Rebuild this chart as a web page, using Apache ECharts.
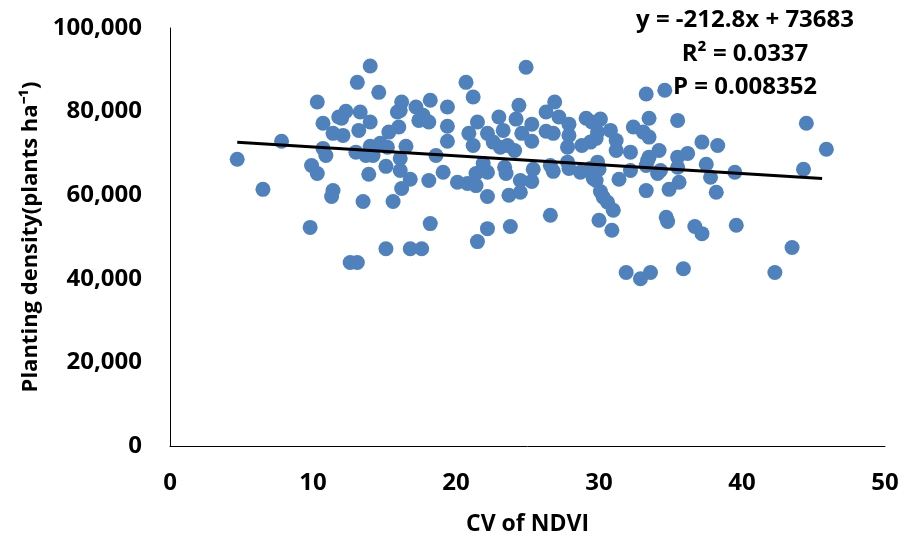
<!DOCTYPE html>
<html>
<head>
<meta charset="utf-8">
<script src="https://cdn.jsdelivr.net/npm/echarts@6/dist/echarts.min.js"></script>
<style>
    html, body { margin: 0; padding: 0; background: #fff; }
    #main { width: 911px; height: 540px; }
</style>
</head>
<body>
<div id="main"></div>
<script>
// CV of NDVI (x) and planting density (y)
var cvNdvi = [
    4.7, 6.5, 7.8, 9.8, 9.9, 10.3, 10.3, 10.7, 10.7, 10.9,
    11.4, 11.4, 11.3, 11.8, 12.1, 12.0, 12.3, 12.6, 13.1, 13.1,
    13.0, 13.3, 13.2, 13.5, 14.0, 14.0, 13.9, 13.7, 14.0, 14.2,
    14.6, 14.7, 15.1, 15.1, 15.2, 15.3, 15.6, 15.9, 16.0, 16.1,
    16.2, 16.1, 16.1, 16.2, 16.5, 16.8, 16.8, 17.2, 17.4, 17.6,
    17.7, 18.1, 18.1, 18.2, 18.2, 18.6, 19.1, 19.4, 19.4, 19.4,
    20.1, 20.7, 20.8, 20.9, 21.2, 21.2, 21.4, 21.4, 21.5, 21.5,
    21.9, 22.2, 22.2, 22.2, 22.2, 22.6, 23.0, 23.1, 23.3, 23.4,
    23.5, 23.6, 23.7, 23.8, 24.1, 24.2, 24.4, 24.5, 24.5, 24.6,
    24.9, 25.3, 25.3, 25.3, 25.4, 26.3, 26.3, 26.8, 26.6, 26.6,
    26.8, 26.9, 27.2, 27.8, 27.8, 27.9, 27.9, 27.9, 28.7, 28.8,
    29.1, 29.4, 29.4, 29.5, 29.6, 29.8, 29.8, 29.9, 29.9, 30.0,
    30.1, 30.0, 30.1, 30.3, 30.6, 30.8, 30.9, 31.0, 31.2, 31.2,
    31.4, 31.9, 32.2, 32.2, 32.4, 32.9, 33.1, 33.3, 33.3, 33.3,
    33.4, 33.5, 33.5, 33.5, 33.6, 34.1, 34.2, 34.3, 34.6, 34.7,
    34.8, 34.9, 35.5, 35.5, 35.5, 35.6, 35.9, 36.2, 36.7, 37.2,
    37.2, 37.5, 37.8, 38.2, 38.3, 39.5, 39.6, 42.3, 43.5, 44.3,
    44.5, 45.9
];
var density = [
    68600, 61400, 72900, 52300, 67100, 65200, 82300, 77200, 71200, 69500,
    74800, 61100, 59700, 78700, 74300, 78400, 80100, 43900, 43900, 87000,
    70300, 79900, 75500, 58500, 90900, 77500, 65000, 69500, 71700, 69500,
    84600, 72400, 47200, 66900, 71500, 75100, 58500, 79900, 76300, 80300,
    82300, 68800, 65900, 61600, 71700, 47200, 63800, 81100, 77900, 47200,
    79100, 77500, 63500, 82700, 53200, 69500, 65500, 81100, 76500, 72900,
    63100, 87000, 62800, 74800, 83500, 71900, 65200, 62300, 77500, 48900,
    67600, 74800, 65500, 59700, 52000, 72700, 78700, 71500, 75500, 66700,
    65200, 71900, 60000, 52500, 70700, 78200, 81500, 63500, 60700, 74800,
    90600, 63300, 77000, 72900, 66200, 79900, 75300, 74800, 67100, 55200,
    65700, 82300, 78700, 67900, 71500, 77000, 74300, 66400, 65500, 71900,
    78400, 72700, 66400, 77500, 64000, 73600, 63500, 75100, 67900, 66200,
    60900, 54000, 78200, 59500, 58300, 75500, 51600, 56400, 73100, 70700,
    63800, 41500, 70300, 65900, 76300, 40000, 75100, 84200, 67100, 61100,
    68300, 78400, 73900, 69100, 41500, 65200, 70700, 65900, 85100, 54700,
    53700, 61400, 77900, 69100, 66700, 63100, 42400, 70000, 52500, 72700,
    50800, 67400, 64300, 60700, 71900, 65500, 52800, 41500, 47500, 66200,
    77200, 71000
];

// linear fit shown on the chart
var slope = -212.8;
var intercept = 73683;
var fitX = [4.7, 45.6];
var fitText = ['y = -212.8x + 73683', 'R² = 0.0337', 'P = 0.008352'];

var xTicks = { min: 0, max: 50, step: 10 };
var yTicks = { min: 0, max: 100000, step: 20000 };

var points = [];
for (var i = 0; i < cvNdvi.length; i++) {
    points.push([cvNdvi[i], density[i]]);
}
var fitLine = fitX.map(function (x) { return [x, slope * x + intercept]; });

var font = 'Open Sans';
var myChart = echarts.init(document.getElementById('main'));
var option = {
    animation: false,
    grid: { left: 170, right: 26, top: 28, bottom: 94, outerBoundsMode: 'none', containLabel: false },
    xAxis: {
        type: 'value',
        min: xTicks.min, max: xTicks.max, interval: xTicks.step,
        name: 'CV of NDVI',
        nameLocation: 'middle',
        nameGap: 67,
        nameTextStyle: { color: '#000', fontSize: 23, fontWeight: 'bold', fontFamily: font },
        axisLine: { lineStyle: { color: '#000', width: 1 } },
        axisTick: { show: false },
        splitLine: { show: false },
        axisLabel: { color: '#000', fontSize: 24, fontWeight: 'bold', fontFamily: font, margin: 25 }
    },
    yAxis: {
        type: 'value',
        min: yTicks.min, max: yTicks.max, interval: yTicks.step,
        name: 'Planting density(plants ha⁻¹)',
        nameLocation: 'middle',
        nameGap: 126,
        nameTextStyle: { color: '#000', fontSize: 22, fontWeight: 'bold', fontFamily: font },
        axisLine: { show: true, lineStyle: { color: '#000', width: 1 } },
        axisTick: { show: false },
        splitLine: { show: false },
        axisLabel: {
            color: '#000', fontSize: 24, fontWeight: 'bold', fontFamily: font, margin: 28,
            formatter: function (v) { return v.toLocaleString('en-US'); }
        }
    },
    series: [
        {
            type: 'scatter',
            data: points,
            symbolSize: 15,
            itemStyle: { color: '#4f81bd', opacity: 1 },
            z: 2
        },
        {
            type: 'line',
            data: fitLine,
            symbol: 'none',
            lineStyle: { color: '#000', width: 3 },
            z: 3
        }
    ]
};
var textY = [20, 54, 87];
option.graphic = fitText.map(function (t, i) {
    return {
        type: 'text', x: 745, y: textY[i], z: 10,
        style: { text: t, textAlign: 'center', textVerticalAlign: 'middle', fill: '#000', font: 'bold 24px "Open Sans"' }
    };
});
myChart.setOption(option);
</script>
</body>
</html>
